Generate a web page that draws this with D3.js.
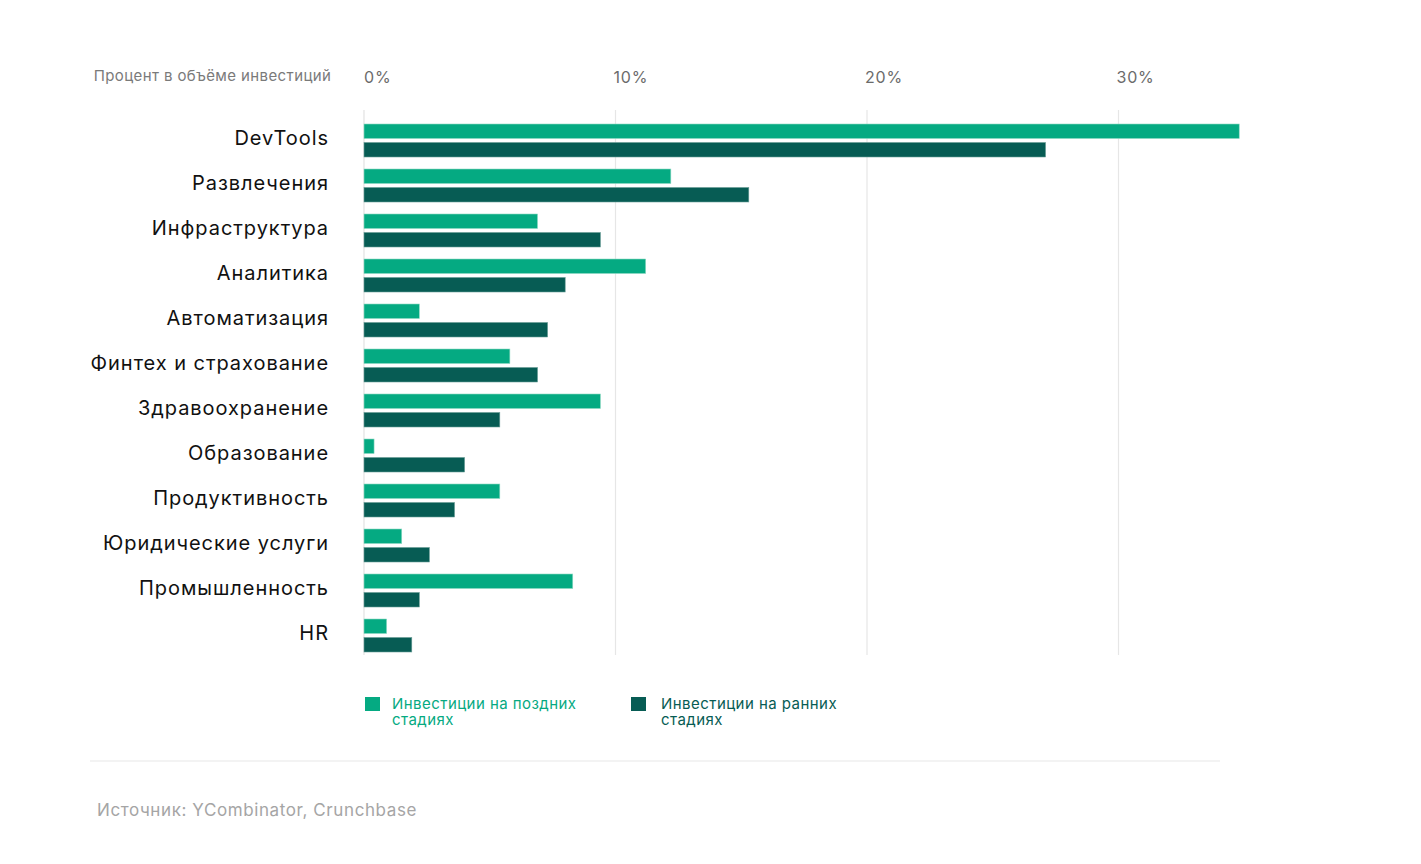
<!DOCTYPE html>
<html><head><meta charset="utf-8">
<script src="https://cdn.jsdelivr.net/npm/d3@7"></script>
<style>
body{margin:0;background:#fff;}
svg{display:block;font-family:Inter, Roboto, "Noto Sans", sans-serif;}
</style></head>
<body><svg id="c" width="1421" height="864"></svg>
<script>
const categories = ["DevTools","Развлечения","Инфраструктура","Аналитика","Автоматизация","Финтех и страхование","Здравоохранение","Образование","Продуктивность","Юридические услуги","Промышленность","HR"];
const lateStage = [34.8,12.2,6.9,11.2,2.2,5.8,9.4,0.4,5.4,1.5,8.3,0.9];
const earlyStage = [27.1,15.3,9.4,8.0,7.3,6.9,5.4,4.0,3.6,2.6,2.2,1.9];
const tickValues = [0,10,20,30];
const tickLabels = ["0%","10%","20%","30%"];
const seriesNames = ["Инвестиции на поздних стадиях","Инвестиции на ранних стадиях"];
const colors = ["#05aa82","#075c54"];

const svg = d3.select("#c");
const x = d3.scaleLinear().domain([0,30]).range([364,1118.5]);
const y = d3.scaleBand().domain(categories).range([118,658]);

// gridlines
svg.append("g").selectAll("line").data(tickValues).join("line")
  .attr("x1",d=>x(d)).attr("x2",d=>x(d)).attr("y1",110).attr("y2",655)
  .attr("stroke",d=>d===0?"#e2e2e2":"#e6e6e6").attr("stroke-width",1.2);

// tick labels
svg.append("g").selectAll("text").data(tickValues).join("text")
  .attr("x",(d)=>x(d)-(d===0?0:2)).attr("y",83)
  .attr("font-size",16).attr("fill","#6b6b6b").attr("letter-spacing","0.8")
  .text((d,i)=>tickLabels[i]);

svg.append("text").attr("x",331.4).attr("y",81).attr("text-anchor","end")
  .attr("font-size",15).attr("fill","#7a7a7a").attr("letter-spacing","0.4")
  .text("Процент в объёме инвестиций");

// category labels
svg.append("g").selectAll("text").data(categories).join("text")
  .attr("x",329).attr("y",d=>y(d)+y.bandwidth()/2+4)
  .attr("text-anchor","end").attr("font-size",20).attr("fill","#111")
  .attr("letter-spacing","0.95")
  .text(d=>d);

const c = d=>y(d)+y.bandwidth()/2;
// bars
svg.append("g").selectAll("rect").data(categories).join("rect")
  .attr("x",x(0)).attr("y",d=>c(d)-16.5).attr("height",14.5)
  .attr("width",(d,i)=>x(lateStage[i])-x(0))
  .attr("fill",colors[0]).attr("stroke","#8fd9c4").attr("stroke-width",0.6);
svg.append("g").selectAll("rect").data(categories).join("rect")
  .attr("x",x(0)).attr("y",d=>c(d)+2).attr("height",14.5)
  .attr("width",(d,i)=>x(earlyStage[i])-x(0))
  .attr("fill",colors[1]).attr("stroke","#6a9d97").attr("stroke-width",0.6);

// legend
const lg = [{x:365,tx:392,lines:["Инвестиции на поздних","стадиях"]},{x:631,tx:661,lines:["Инвестиции на ранних","стадиях"]}];
lg.forEach((l,i)=>{
  svg.append("rect").attr("x",l.x).attr("y",697).attr("width",15).attr("height",14).attr("fill",colors[i]);
  l.lines.forEach((s,j)=>svg.append("text").attr("x",l.tx).attr("y",709+16*j)
    .attr("font-size",15).attr("fill",colors[i]).attr("letter-spacing","0.45").text(s));
});

svg.append("line").attr("x1",90).attr("x2",1220).attr("y1",761).attr("y2",761)
  .attr("stroke","#efefef").attr("stroke-width",1.5);
svg.append("text").attr("x",97).attr("y",816).attr("font-size",17).attr("fill","#a5a5a5")
  .attr("letter-spacing","0.6")
  .text("Источник: YCombinator, Crunchbase");
</script></body></html>
